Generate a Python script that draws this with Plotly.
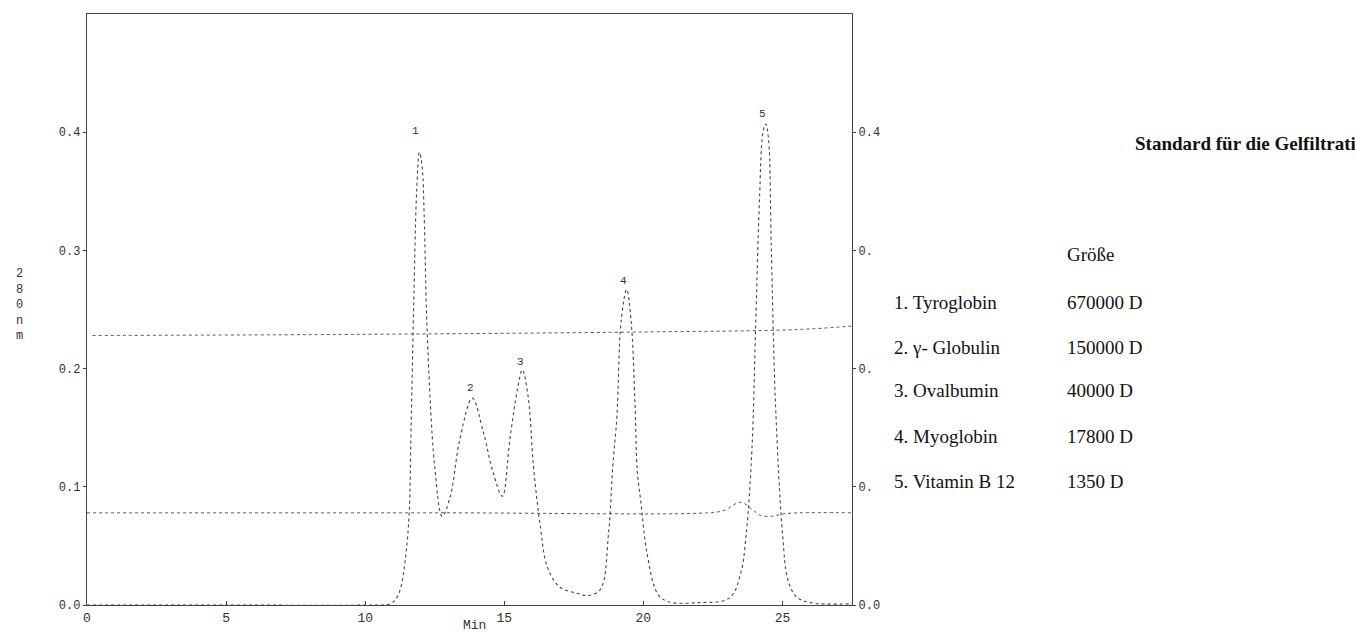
import plotly.graph_objects as go

# Main chromatogram (time in min, absorbance at 280 nm)
time_main = [0, 5, 10.0, 10.9, 11.1, 11.26, 11.45, 11.58, 11.65, 11.75, 11.85, 11.95, 12.05, 12.12, 12.23,
             12.5, 12.77,
             13.06, 13.4, 13.85, 14.25, 14.6, 14.93, 15.2, 15.47, 15.65, 15.86, 16.05, 16.3, 16.55,
             17.0, 17.6, 18.0, 18.45, 18.75, 18.9, 19.05, 19.2, 19.4, 19.56, 19.7, 19.78, 19.9, 20.13,
             20.5, 20.86, 22.0, 23.1, 23.5, 23.7, 23.9, 24.03, 24.17, 24.3, 24.4, 24.5, 24.6, 24.75,
             25.0, 25.2, 25.5, 26.0, 27.5]
abs_main = [0.0, 0.0, 0.0, 0.001, 0.005, 0.013, 0.04, 0.077, 0.15, 0.26, 0.35, 0.383, 0.37, 0.33, 0.23,
            0.117, 0.075,
            0.092, 0.14, 0.175, 0.146, 0.112, 0.092, 0.14, 0.182, 0.199, 0.176, 0.117, 0.066, 0.032,
            0.015, 0.010, 0.008, 0.013, 0.061, 0.117, 0.16, 0.24, 0.267, 0.24, 0.17, 0.114, 0.089, 0.044,
            0.010, 0.003, 0.002, 0.006, 0.027, 0.061, 0.13, 0.23, 0.34, 0.40, 0.407, 0.394, 0.30, 0.17,
            0.061, 0.021, 0.007, 0.002, 0.001]

# Second channel trace (baseline near 0.078)
time_b = [0, 12.7, 22.3, 22.9, 23.5, 23.9, 24.2, 24.6, 25.0, 25.6, 27.5]
abs_b = [0.078, 0.078, 0.078, 0.080, 0.087, 0.081, 0.076, 0.075, 0.077, 0.078, 0.078]

# Third channel trace (baseline near 0.23)
time_c = [0.2, 10.0, 20.0, 25.5, 27.5]
abs_c = [0.228, 0.229, 0.231, 0.233, 0.236]

# Peak labels
peak_labels = ["1", "2", "3", "4", "5"]
peak_label_t = [11.8, 13.8, 15.58, 19.28, 24.3]
peak_label_a = [0.401, 0.184, 0.206, 0.274, 0.415]

# Tick labels
x_ticks = [0, 5, 10, 15, 20, 25]
y_ticks = [0.0, 0.1, 0.2, 0.3, 0.4]
y_ticklabels_left = ["0.0", "0.1", "0.2", "0.3", "0.4"]
y_ticklabels_right = ["0.0", "0.", "0.", "0.", "0.4"]

# Side table
title_text = "Standard für die Gelfiltrati"
size_header = "Größe"
proteins = ["1. Tyroglobin", "2. γ- Globulin", "3. Ovalbumin", "4. Myoglobin", "5. Vitamin B 12"]
sizes = ["670000 D", "150000 D", "40000 D", "17800 D", "1350 D"]

mono = "Liberation Mono"
serif = "Liberation Serif"
line_col = "#555555"
axis_col = "#444444"
txt_col = "#333333"

fig = go.Figure()
fig.add_trace(go.Scatter(x=time_c, y=abs_c, mode="lines", line_shape="spline",
                         line=dict(color=line_col, width=1, dash="dot"), hoverinfo="skip"))
fig.add_trace(go.Scatter(x=time_b, y=abs_b, mode="lines", line_shape="spline",
                         line=dict(color=line_col, width=1, dash="dot"), hoverinfo="skip"))
fig.add_trace(go.Scatter(x=time_main, y=abs_main, mode="lines", line_shape="spline",
                         line=dict(color="#444444", width=1.1, dash="dot")))
# invisible trace to activate right axis
fig.add_trace(go.Scatter(x=[0], y=[0], yaxis="y2", mode="markers", marker=dict(opacity=0), hoverinfo="skip"))

for lab, t, a in zip(peak_labels, peak_label_t, peak_label_a):
    fig.add_annotation(x=t, y=a, text=lab, showarrow=False, xanchor="center", yanchor="middle",
                       font=dict(family=mono, size=11, color=txt_col))


def px_to_paper_x(px):
    return (px - 87) / 765.0


def px_to_paper_y(py):
    return (605 - py) / 591.0


fig.add_annotation(xref="paper", yref="paper", x=px_to_paper_x(19), y=px_to_paper_y(305),
                   xanchor="center", yanchor="middle", text="2<br>8<br>0<br>n<br>m",
                   showarrow=False, font=dict(family=mono, size=12, color=txt_col))
fig.add_annotation(xref="paper", yref="paper", x=px_to_paper_x(474), y=px_to_paper_y(625),
                   xanchor="center", yanchor="middle", text="Min", showarrow=False,
                   font=dict(family=mono, size=13, color=txt_col))

side_font = dict(family=serif, size=19, color="#111111")
fig.add_annotation(xref="paper", yref="paper", x=px_to_paper_x(1133), y=px_to_paper_y(143),
                   xanchor="left", yanchor="middle", text="<b>" + title_text + "</b>",
                   showarrow=False, font=side_font)
fig.add_annotation(xref="paper", yref="paper", x=px_to_paper_x(1065), y=px_to_paper_y(254),
                   xanchor="left", yanchor="middle", text=size_header, showarrow=False, font=side_font)
row_y = [302, 347, 391, 436, 481]
for name, sz, ry in zip(proteins, sizes, row_y):
    fig.add_annotation(xref="paper", yref="paper", x=px_to_paper_x(892), y=px_to_paper_y(ry),
                       xanchor="left", yanchor="middle", text=name, showarrow=False, font=side_font)
    fig.add_annotation(xref="paper", yref="paper", x=px_to_paper_x(1065), y=px_to_paper_y(ry),
                       xanchor="left", yanchor="middle", text=sz, showarrow=False, font=side_font)

fig.update_layout(
    width=1355, height=632,
    margin=dict(l=87, r=503, t=14, b=27, autoexpand=False),
    paper_bgcolor="white", plot_bgcolor="white",
    showlegend=False,
    xaxis=dict(range=[0, 27.5], tickvals=x_ticks, ticktext=[str(v) for v in x_ticks],
               showgrid=False, zeroline=False, showline=True, linecolor=axis_col, linewidth=1.3,
               mirror=True, ticks="inside", ticklen=4, tickcolor=axis_col, automargin=False,
               tickfont=dict(family=mono, size=13, color=txt_col)),
    yaxis=dict(range=[0, 0.5], tickvals=y_ticks, ticktext=y_ticklabels_left,
               showgrid=False, zeroline=False, showline=True, linecolor=axis_col, linewidth=1.3,
               ticks="outside", ticklen=3, tickcolor=axis_col, automargin=False,
               tickfont=dict(family=mono, size=12, color=txt_col)),
    yaxis2=dict(range=[0, 0.5], overlaying="y", side="right", tickvals=y_ticks,
                ticktext=y_ticklabels_right, showgrid=False, zeroline=False, showline=True,
                linecolor=axis_col, linewidth=1.3, ticks="outside", ticklen=3, tickcolor=axis_col,
                automargin=False, tickfont=dict(family=mono, size=12, color=txt_col)),
)

fig.write_html("out.html")
